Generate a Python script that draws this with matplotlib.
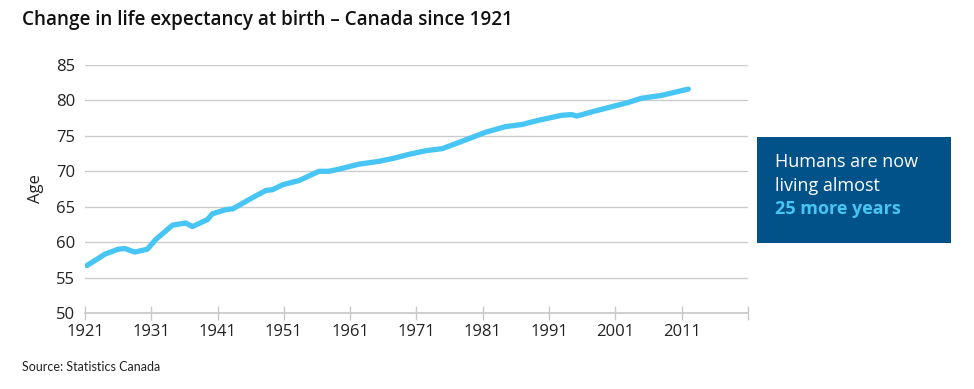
import matplotlib
matplotlib.use("Agg")
import matplotlib.pyplot as plt
from matplotlib.patches import Rectangle

# Life expectancy at birth, Canada
years = [1921.3, 1923, 1924, 1926, 1927, 1928.5, 1930.4, 1931.7, 1934.2, 1936.2,
         1937.2, 1939.5, 1940.2, 1942.3, 1943.3, 1946.3, 1948.3, 1949.3, 1950.8,
         1953.3, 1956.3, 1957.8, 1959.3, 1962.3, 1965.3, 1967.4, 1969.9, 1972.4,
         1974.9, 1976.9, 1978.9, 1981.4, 1984.4, 1986.9, 1989.4, 1992.9, 1994.4,
         1995.2, 1997.9, 2000.4, 2002.9, 2004.9, 2007.9, 2012]
ages = [56.7, 57.7, 58.3, 59.0, 59.1, 58.6, 59.0, 60.4, 62.4, 62.7,
        62.2, 63.2, 64.0, 64.6, 64.7, 66.3, 67.3, 67.4, 68.1,
        68.7, 70.0, 70.0, 70.3, 71.0, 71.4, 71.8, 72.4, 72.9,
        73.2, 73.9, 74.6, 75.5, 76.3, 76.6, 77.2, 77.9, 78.0,
        77.8, 78.5, 79.1, 79.7, 80.3, 80.7, 81.6]

xticks = [1921, 1931, 1941, 1951, 1961, 1971, 1981, 1991, 2001, 2011, 2021]
xlabels = ["1921", "1931", "1941", "1951", "1961", "1971", "1981", "1991", "2001", "2011", ""]
yticks = [50, 55, 60, 65, 70, 75, 80, 85]

plt.rcParams['font.family'] = ['Open Sans', 'DejaVu Sans']

fig = plt.figure(figsize=(9.74, 3.89), dpi=100)
ax = fig.add_axes([85/974, 1 - 313/389, (748 - 85)/974, (313 - 65)/389])

ax.plot(years, ages, color="#47c5f4", lw=3.8, solid_capstyle="round",
        solid_joinstyle="round", zorder=3)

ax.set_xlim(1921, 2021)
ax.set_ylim(50, 85)
ax.set_xticks(xticks)
ax.set_xticklabels(xlabels)
ax.set_yticks(yticks)

for s in ["top", "right", "left"]:
    ax.spines[s].set_visible(False)
ax.spines["bottom"].set_color("#c8c8c8")
ax.spines["bottom"].set_linewidth(1.2)

ax.grid(axis="y", color="#cccccc", lw=1.0)
ax.set_axisbelow(True)
ax.tick_params(axis="y", length=0, pad=7, labelsize=12, labelcolor="#222222")
ax.tick_params(axis="x", direction="inout", length=10, width=1, color="#c8c8c8",
               pad=3, labelsize=12, labelcolor="#222222")
ax.set_ylabel("Age", fontsize=12, color="#222222", labelpad=9)

fig.text(22/974, 1 - 20/389, "Change in life expectancy at birth \u2013 Canada since 1921",
         fontsize=13.6, fontweight="semibold", color="#111111", va="center", ha="left")
fig.text(22/974, 1 - 367/389, "Source: Statistics Canada", fontsize=9,
         color="#222222", va="center", ha="left", family=["Lato", "DejaVu Sans"])

# callout box
box = Rectangle((757/974, 1 - 243/389), (951 - 757)/974, (243 - 137)/389,
                transform=fig.transFigure, facecolor="#02528a", edgecolor="none")
fig.patches.append(box)
fig.text(775/974, 1 - 162/389, "Humans are now", fontsize=13, color="white", va="center")
fig.text(775/974, 1 - 186/389, "living almost", fontsize=13, color="white", va="center")
fig.text(775/974, 1 - 209/389, "25 more years", fontsize=13, color="#47c5f4",
         fontweight="bold", va="center")

fig.savefig("out.png", dpi=100)
